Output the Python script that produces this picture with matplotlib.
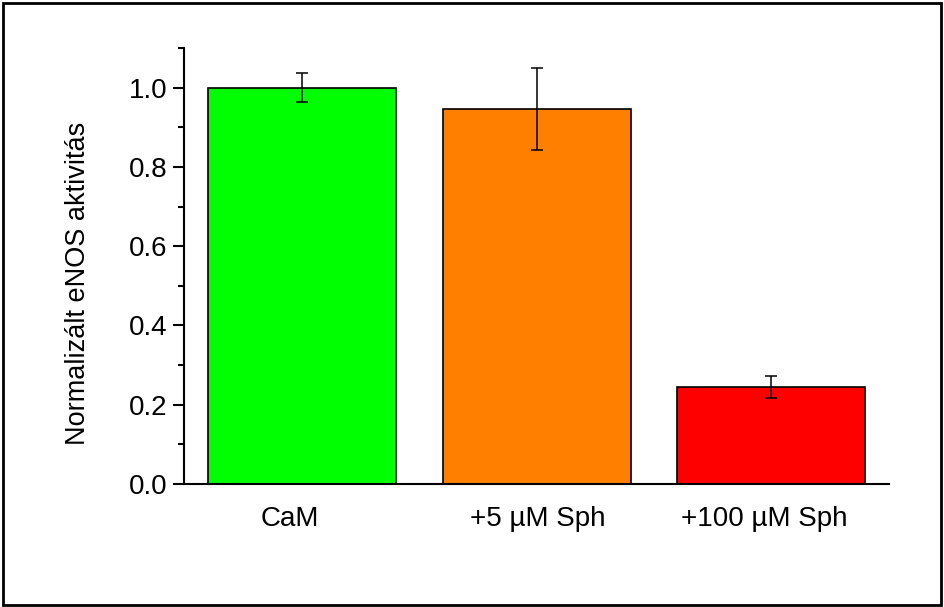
import numpy as np
import matplotlib.pyplot as plt
from matplotlib.ticker import MultipleLocator
from matplotlib.patches import Rectangle
from matplotlib.transforms import ScaledTranslation

plt.rcParams['font.family'] = ['Liberation Sans', 'DejaVu Sans']

# data
groups = ['CaM', '+5 µM Sph', '+100 µM Sph']
activity = [1.0, 0.946, 0.245]
errors = [0.036, 0.104, 0.028]
colors = ['#00ff00', '#ff8000', '#ff0000']

fig = plt.figure(figsize=(9.44, 6.07), dpi=100)
ax = fig.add_axes([0.195, 0.2026, 0.7467, 0.7184])

x = np.arange(1, len(groups) + 1)
ax.bar(x, activity, width=0.8, color=colors, edgecolor='black', linewidth=1.2, zorder=2)
ax.errorbar(x, activity, yerr=errors, fmt='none', ecolor='black',
            elinewidth=1.1, capsize=4, capthick=1.1, zorder=3)

ax.set_xlim(0.5, 3.5)
ax.set_ylim(0, 1.1)
ax.yaxis.set_minor_locator(MultipleLocator(0.1))
ax.set_yticks(np.arange(0, 1.01, 0.2))
ax.set_yticklabels([f'{v:.1f}' for v in np.arange(0, 1.01, 0.2)])
ax.set_xticks(x)
ax.set_xticklabels(groups)

# only left and bottom axis lines
ax.spines['top'].set_visible(False)
ax.spines['right'].set_visible(False)
for s in ['left', 'bottom']:
    ax.spines[s].set_linewidth(1.5)
ax.tick_params(axis='y', which='major', length=8, width=1.5, labelsize=20, pad=4)
ax.tick_params(axis='y', which='minor', length=4, width=1.5)
ax.tick_params(axis='x', length=0, labelsize=20, pad=16)

# the original labels sit a little off the bar centres
for lbl, dx in zip(ax.get_xticklabels(), [-12, 1.5, -7.5]):
    lbl.set_transform(lbl.get_transform() + ScaledTranslation(dx / 100, 0, fig.dpi_scale_trans))

ax.set_ylabel('Normalizált eNOS aktivitás', fontsize=19.5)
ax.yaxis.set_label_coords(-0.132, 0.461)

# border around the whole figure
fig.patches.append(Rectangle((0.003, 0.004), 0.994, 0.991, transform=fig.transFigure,
                             fill=False, edgecolor='black', linewidth=2))

plt.savefig('out.png', dpi=100)
